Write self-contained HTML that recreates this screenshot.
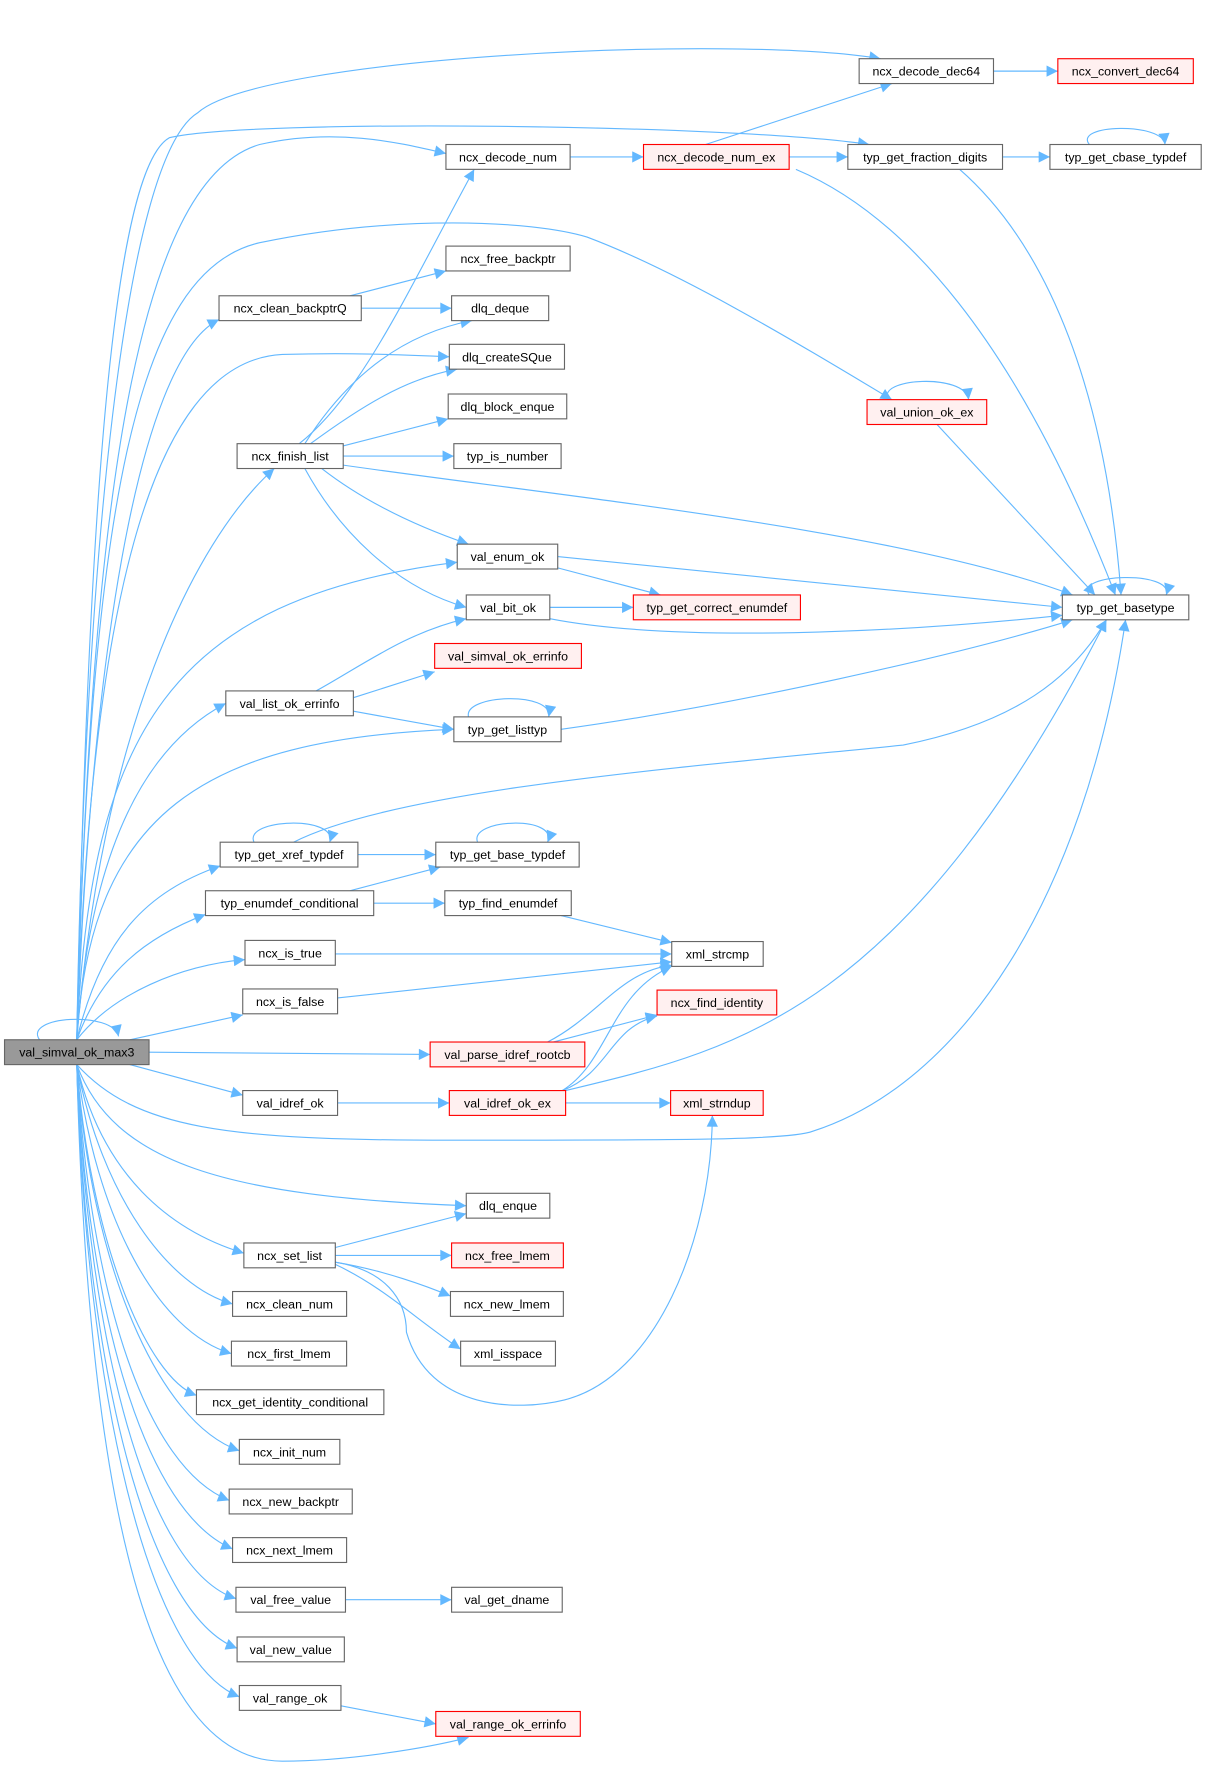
<!DOCTYPE html>
<html><head><meta charset="utf-8"><style>
html,body{margin:0;padding:0;background:#fff;}
svg{display:block;}
text{font-family:"Liberation Sans",Arial,sans-serif;font-size:11px;fill:#000;text-anchor:middle;}
.e{fill:none;stroke:#63b8ff;stroke-width:1;}
.n{fill:#fff;stroke:#666;stroke-width:1;}
.r{fill:#fff0f0;stroke:#f00;stroke-width:1;}
.m{fill:#999;stroke:#666;stroke-width:1;}
</style></head><body>
<svg width="1208" height="1772" viewBox="0 0 1070 1569.6" xmlns="http://www.w3.org/2000/svg">
<defs><marker id="a" viewBox="0 0 10 10" refX="10" refY="5" markerWidth="11" markerHeight="10" markerUnits="userSpaceOnUse" orient="auto"><path d="M0,0 L10,5 L0,10 z" fill="#63b8ff"/></marker></defs>
<g class="e" marker-end="url(#a)">
<path d="M68,921 C75,500 110,140 175,100 C230,50 650,30 780,52"/>
<path d="M68,921 C78,450 100,150 150,122 C220,105 650,110 770,128"/>
<path d="M68,921 C80,450 120,160 230,128 C300,112 360,128 395,136"/>
<path d="M68,921 C80,450 120,240 230,215 C350,190 470,195 520,210 C600,240 700,300 790,354"/>
<path d="M68,921 C80,600 120,320 194,283"/>
<path d="M68,921 C80,550 130,320 250,314 C320,312 370,315 398,316"/>
<path d="M68,921 C90,650 170,480 243,415"/>
<path d="M68,921 C80,650 150,530 405,498"/>
<path d="M68,921 C80,750 130,660 200,623"/>
<path d="M68,921 C80,720 180,655 402,646"/>
<path d="M68,921 C90,830 130,790 195,767"/>
<path d="M68,921 C90,860 130,830 182,810"/>
<path d="M68,921 C100,880 160,855 217,850"/>
<path d="M115,921 L215,899"/>
<path d="M132,932 L381,934"/>
<path d="M115,943 L215,970"/>
<path d="M68,943 C120,1000 200,1010 400,1010 C600,1010 700,1010 720,1002 C850,960 960,800 997,549"/>
<path d="M68,943 C100,1030 200,1060 413,1068"/>
<path d="M68,943 C90,1040 150,1090 216,1110"/>
<path d="M68,943 C90,1060 150,1140 206,1155"/>
<path d="M68,943 C85,1080 140,1180 205,1199"/>
<path d="M68,943 C80,1100 130,1220 174,1236"/>
<path d="M68,943 C80,1120 140,1260 212,1285"/>
<path d="M68,943 C80,1150 130,1300 203,1329"/>
<path d="M68,943 C78,1170 130,1340 206,1372"/>
<path d="M68,943 C78,1190 130,1390 209,1416"/>
<path d="M68,943 C76,1210 130,1430 210,1460"/>
<path d="M68,943 C76,1230 130,1470 212,1503"/>
<path d="M68,943 C80,1400 150,1560 250,1560 C310,1560 380,1548 415,1539"/>
<path d="M35,921 C20,900 100,895 105,918"/>
<path d="M880,63 L937,63"/>
<path d="M625,128 L790,74"/>
<path d="M505,139 L570,139"/>
<path d="M699,139 L751,139"/>
<path d="M705,150 C800,190 900,300 988,527"/>
<path d="M888,139 L930,139"/>
<path d="M965,128 C950,110 1030,108 1032,128"/>
<path d="M850,150 C930,220 980,350 993,527"/>
<path d="M787,354 C775,335 855,330 858,354"/>
<path d="M830,376 L970,527"/>
<path d="M965,527 C950,508 1040,505 1033,527"/>
<path d="M310,262 L395,240"/>
<path d="M320,273 L400,273"/>
<path d="M265,393 C320,350 360,260 420,150"/>
<path d="M270,393 C310,330 360,295 418,284"/>
<path d="M275,393 C320,360 360,335 405,327"/>
<path d="M300,396 L397,371"/>
<path d="M304,404 L402,404"/>
<path d="M304,412 C500,440 800,470 950,527"/>
<path d="M285,415 C330,450 380,470 415,482"/>
<path d="M270,415 C300,470 350,520 413,538"/>
<path d="M494,493 L941,538"/>
<path d="M494,503 L585,527"/>
<path d="M487,538 L561,538"/>
<path d="M487,548 C600,570 800,560 941,545"/>
<path d="M280,612 C320,590 360,560 413,548"/>
<path d="M313,618 L385,595"/>
<path d="M313,630 L402,646"/>
<path d="M497,646 C650,625 850,580 950,549"/>
<path d="M415,635 C410,615 490,612 486,635"/>
<path d="M260,746 C350,700 600,680 800,660 C900,640 950,600 980,549"/>
<path d="M225,746 C215,725 300,722 292,746"/>
<path d="M317,757 L386,757"/>
<path d="M423,746 C415,725 495,722 485,746"/>
<path d="M310,789 L390,768"/>
<path d="M331,800 L394,800"/>
<path d="M497,811 L595,835"/>
<path d="M297,845 L595,845"/>
<path d="M299,884 L595,852"/>
<path d="M485,923 C530,900 550,860 595,855"/>
<path d="M490,923 L582,899"/>
<path d="M498,966 C540,940 540,880 595,856"/>
<path d="M498,966 C540,950 540,910 582,900"/>
<path d="M501,966 C650,930 800,900 980,549"/>
<path d="M299,977 L398,977"/>
<path d="M501,977 L594,977"/>
<path d="M297,1105 L413,1075"/>
<path d="M297,1112 L400,1112"/>
<path d="M297,1118 C340,1125 380,1140 399,1148"/>
<path d="M297,1120 C340,1140 370,1170 408,1195"/>
<path d="M297,1118 C340,1125 360,1150 360,1180 C380,1250 460,1250 500,1240 C580,1220 630,1100 631,988"/>
<path d="M306,1417 L400,1417"/>
<path d="M302,1511 L386,1527"/>
</g>
<g>
<rect class="m" x="4" y="921" width="128" height="22"/><text x="68" y="936">val_simval_ok_max3</text>
<rect class="n" x="761" y="52" width="119" height="22"/><text x="820.5" y="67">ncx_decode_dec64</text>
<rect class="r" x="937" y="52" width="120" height="22"/><text x="997" y="67">ncx_convert_dec64</text>
<rect class="n" x="395" y="128" width="110" height="22"/><text x="450" y="143">ncx_decode_num</text>
<rect class="r" x="570" y="128" width="129" height="22"/><text x="634.5" y="143">ncx_decode_num_ex</text>
<rect class="n" x="751" y="128" width="137" height="22"/><text x="819.5" y="143">typ_get_fraction_digits</text>
<rect class="n" x="930" y="128" width="134" height="22"/><text x="997" y="143">typ_get_cbase_typdef</text>
<rect class="n" x="395" y="218" width="110" height="22"/><text x="450" y="233">ncx_free_backptr</text>
<rect class="n" x="194" y="262" width="126" height="22"/><text x="257" y="277">ncx_clean_backptrQ</text>
<rect class="n" x="400" y="262" width="86" height="22"/><text x="443" y="277">dlq_deque</text>
<rect class="n" x="398" y="305" width="102" height="22"/><text x="449" y="320">dlq_createSQue</text>
<rect class="n" x="397" y="349" width="105" height="22"/><text x="449.5" y="364">dlq_block_enque</text>
<rect class="r" x="768" y="354" width="106" height="22"/><text x="821" y="369">val_union_ok_ex</text>
<rect class="n" x="210" y="393" width="94" height="22"/><text x="257" y="408">ncx_finish_list</text>
<rect class="n" x="402" y="393" width="95" height="22"/><text x="449.5" y="408">typ_is_number</text>
<rect class="n" x="405" y="482" width="89" height="22"/><text x="449.5" y="497">val_enum_ok</text>
<rect class="n" x="413" y="527" width="74" height="22"/><text x="450" y="542">val_bit_ok</text>
<rect class="r" x="561" y="527" width="148" height="22"/><text x="635" y="542">typ_get_correct_enumdef</text>
<rect class="n" x="941" y="527" width="112" height="22"/><text x="997" y="542">typ_get_basetype</text>
<rect class="r" x="385" y="570" width="130" height="22"/><text x="450" y="585">val_simval_ok_errinfo</text>
<rect class="n" x="200" y="612" width="113" height="22"/><text x="256.5" y="627">val_list_ok_errinfo</text>
<rect class="n" x="402" y="635" width="95" height="22"/><text x="449.5" y="650">typ_get_listtyp</text>
<rect class="n" x="195" y="746" width="122" height="22"/><text x="256" y="761">typ_get_xref_typdef</text>
<rect class="n" x="386" y="746" width="127" height="22"/><text x="449.5" y="761">typ_get_base_typdef</text>
<rect class="n" x="182" y="789" width="149" height="22"/><text x="256.5" y="804">typ_enumdef_conditional</text>
<rect class="n" x="394" y="789" width="112" height="22"/><text x="450" y="804">typ_find_enumdef</text>
<rect class="n" x="217" y="833" width="80" height="22"/><text x="257" y="848">ncx_is_true</text>
<rect class="n" x="595" y="834" width="81" height="22"/><text x="635.5" y="849">xml_strcmp</text>
<rect class="n" x="215" y="876" width="84" height="22"/><text x="257" y="891">ncx_is_false</text>
<rect class="r" x="582" y="877" width="106" height="22"/><text x="635" y="892">ncx_find_identity</text>
<rect class="r" x="381" y="923" width="137" height="22"/><text x="449.5" y="938">val_parse_idref_rootcb</text>
<rect class="n" x="215" y="966" width="84" height="22"/><text x="257" y="981">val_idref_ok</text>
<rect class="r" x="398" y="966" width="103" height="22"/><text x="449.5" y="981">val_idref_ok_ex</text>
<rect class="r" x="594" y="966" width="82" height="22"/><text x="635" y="981">xml_strndup</text>
<rect class="n" x="413" y="1057" width="74" height="22"/><text x="450" y="1072">dlq_enque</text>
<rect class="n" x="216" y="1101" width="81" height="22"/><text x="256.5" y="1116">ncx_set_list</text>
<rect class="r" x="400" y="1101" width="99" height="22"/><text x="449.5" y="1116">ncx_free_lmem</text>
<rect class="n" x="206" y="1144" width="101" height="22"/><text x="256.5" y="1159">ncx_clean_num</text>
<rect class="n" x="399" y="1144" width="100" height="22"/><text x="449" y="1159">ncx_new_lmem</text>
<rect class="n" x="205" y="1188" width="102" height="22"/><text x="256" y="1203">ncx_first_lmem</text>
<rect class="n" x="408" y="1188" width="84" height="22"/><text x="450" y="1203">xml_isspace</text>
<rect class="n" x="174" y="1231" width="166" height="22"/><text x="257" y="1246">ncx_get_identity_conditional</text>
<rect class="n" x="212" y="1275" width="89" height="22"/><text x="256.5" y="1290">ncx_init_num</text>
<rect class="n" x="203" y="1319" width="109" height="22"/><text x="257.5" y="1334">ncx_new_backptr</text>
<rect class="n" x="206" y="1362" width="101" height="22"/><text x="256.5" y="1377">ncx_next_lmem</text>
<rect class="n" x="209" y="1406" width="97" height="22"/><text x="257.5" y="1421">val_free_value</text>
<rect class="n" x="400" y="1406" width="98" height="22"/><text x="449" y="1421">val_get_dname</text>
<rect class="n" x="210" y="1450" width="95" height="22"/><text x="257.5" y="1465">val_new_value</text>
<rect class="n" x="212" y="1493" width="90" height="22"/><text x="257" y="1508">val_range_ok</text>
<rect class="r" x="386" y="1516" width="128" height="22"/><text x="450" y="1531">val_range_ok_errinfo</text>
</g>
</svg>
</body></html>
